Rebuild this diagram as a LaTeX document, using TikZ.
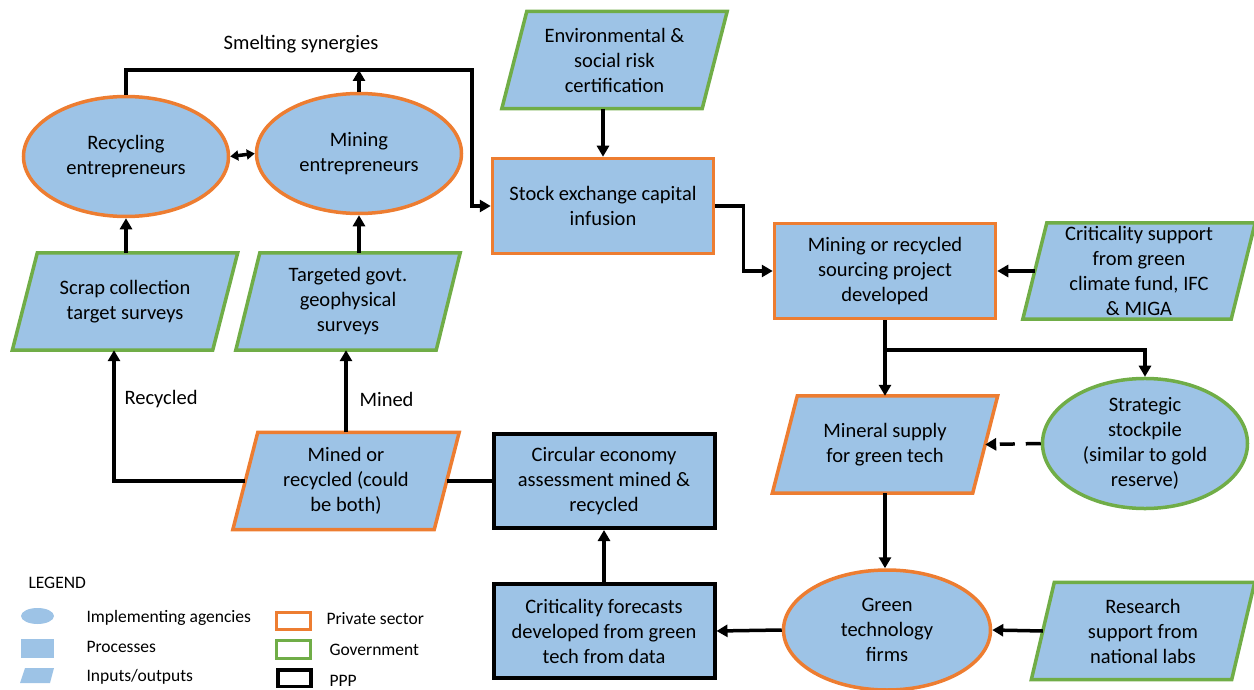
\documentclass[tikz,border=0pt]{standalone}
\usepackage{fontspec}
\setmainfont{Carlito}
\usetikzlibrary{shapes.geometric,arrows.meta,backgrounds}
\definecolor{bfill}{HTML}{9DC3E6}
\definecolor{orng}{HTML}{ED7D31}
\definecolor{grn}{HTML}{70AD47}
\newcommand\parabg[3]{%
  \begin{scope}[on background layer]
    \draw[line width=3.5pt, draw=#2, fill=bfill, line join=miter]
      ([xshift=-#3]#1.south west) -- ([xshift=#3]#1.north west) --
      ([xshift=#3]#1.north east) -- ([xshift=-#3]#1.south east) -- cycle;
  \end{scope}}
\begin{document}
\begin{tikzpicture}[x=1pt,y=-1pt,
  font=\fontsize{20.5}{25}\selectfont,
  box/.style={rectangle, fill=bfill, line width=3.5pt, minimum width=221pt,
    minimum height=95pt, align=center, inner sep=2pt},
  obox/.style={box, draw=orng},
  pbox/.style={box, draw=black, line width=4pt},
  ell/.style={ellipse, fill=bfill, line width=3.5pt, minimum width=205pt,
    minimum height=120pt, align=center, inner sep=0pt},
  oell/.style={ell, draw=orng},
  gell/.style={ell, draw=grn},
  ptext/.style={rectangle, align=center, minimum width=200pt,
    minimum height=97pt, inner sep=0pt},
  arr/.style={line width=3.5pt, -{Triangle[length=11pt,width=12pt]}},
  plain/.style={line width=3.5pt},
  lgd/.style={font=\fontsize{17.5}{21}\selectfont, anchor=west}
]
\useasboundingbox (0,0) rectangle (1254,690);

% --- nodes ---
\node[oell] (rec) at (126,156.5) {Recycling\\entrepreneurs};
\node[oell] (min) at (359,153.5) {Mining\\entrepreneurs};
\node (smelt) at (301,44) {Smelting synergies};

\node[ptext, minimum width=200pt] (env) at (614.5,60) {Environmental \&\\social risk\\certification};
\parabg{env}{grn}{12.5pt}

\node[obox] (stock) at (603,206) {Stock exchange capital\\infusion};
\node[obox] (src) at (885,271) {Mining or recycled\\sourcing project\\developed};

\node[ptext, minimum width=208pt, minimum height=96pt] (crit) at (1139,271) {Criticality support\\from green\\climate fund, IFC\\\& MIGA};
\parabg{crit}{grn}{12pt}

\node[ptext] (minsup) at (885,444.5) {Mineral supply\\for green tech};
\parabg{minsup}{orng}{12.5pt}

\node[gell] (stk) at (1145,443.5) {Strategic\\stockpile\\(similar to gold\\reserve)};

\node[oell, minimum width=207pt] (gt) at (887,630) {Green\\technology\\firms};

\node[ptext] (res) at (1143,631) {Research\\support from\\national labs};
\parabg{res}{grn}{11.5pt}

\node[pbox, minimum height=94pt] (critf) at (604,631) {Criticality forecasts\\developed from green\\tech from data};
\node[pbox, minimum height=94pt] (circ) at (604,481) {Circular economy\\assessment mined \&\\recycled};

\node[ptext, minimum width=201pt] (mined) at (346,481) {Mined or\\recycled (could\\be both)};
\parabg{mined}{orng}{12.5pt}

\node[ptext] (scrap) at (125,301.5) {Scrap collection\\target surveys};
\parabg{scrap}{grn}{12.5pt}

\node[ptext] (targ) at (348,301.5) {Targeted govt.\\geophysical\\surveys};
\parabg{targ}{grn}{12pt}

\node[anchor=west] (lrec) at (121,399) {Recycled};
\node[anchor=west] (lmin) at (356,399) {Mined};

% --- connectors ---
\coordinate (c1) at (472,70);
\draw[line width=3.5pt, {Triangle[length=8pt,width=10pt]}-{Triangle[length=8pt,width=10pt]}] (rec.east) -- (min.west);
\draw[arr] (rec.north) |- (c1) |- (stock.west);
\draw[arr] (min.north) -- (min.north |- c1);
\draw[arr] (env.south -| stock.north) -- (stock.north);
\draw[arr] (stock.east) -- ++(28,0) |- (src.west);
\draw[arr] (crit.west) -- (src.east);
\draw[arr] (src.south) -- (minsup.north);
\coordinate (br) at (885,350);
\draw[arr] (br) -| (stk.north);
\draw[arr, dash pattern=on 15pt off 11pt] (stk.west) -- (minsup.east);
\draw[arr] (minsup.south) -- (minsup.south |- gt.north);
\draw[arr] (res.west) -- (gt.east);
\draw[arr] (gt.west) -- (critf.east);
\draw[arr] (critf.north) -- (circ.south);
\draw[plain] (mined.east) -- (circ.west);
\draw[arr] (mined.west) -| ([xshift=-11pt]scrap.south);
\draw[arr] (mined.north) -- (mined.north |- targ.south);
\draw[arr] (rec.south |- scrap.north) -- (rec.south);
\draw[arr] (min.south |- targ.north) -- (min.south);

% --- legend ---
\node[lgd] (leg) at (25,583) {LEGEND};
\fill[bfill] (37.5,616) ellipse [x radius=16.5pt, y radius=8pt];
\fill[bfill] (21,639) rectangle (54,658);
\fill[bfill] (20,683) -- (25,668) -- (54,668) -- (50,683) -- cycle;
\node[lgd] (l1) at (83,618) {Implementing agencies};
\node[lgd] (l2) at (83,647) {Processes};
\node[lgd] (l3) at (83,677) {Inputs/outputs};
\draw[orng, line width=3pt] (276.5,612.5) rectangle (310.5,629.5);
\draw[grn, line width=3pt] (276.5,640.5) rectangle (310.5,658.5);
\draw[black, line width=3.5pt] (278,670) rectangle (311,686.5);
\node[lgd] (l4) at (323,619) {Private sector};
\node[lgd] (l5) at (326,650) {Government};
\node[lgd] (l6) at (326,681) {PPP};
\end{tikzpicture}
\end{document}
